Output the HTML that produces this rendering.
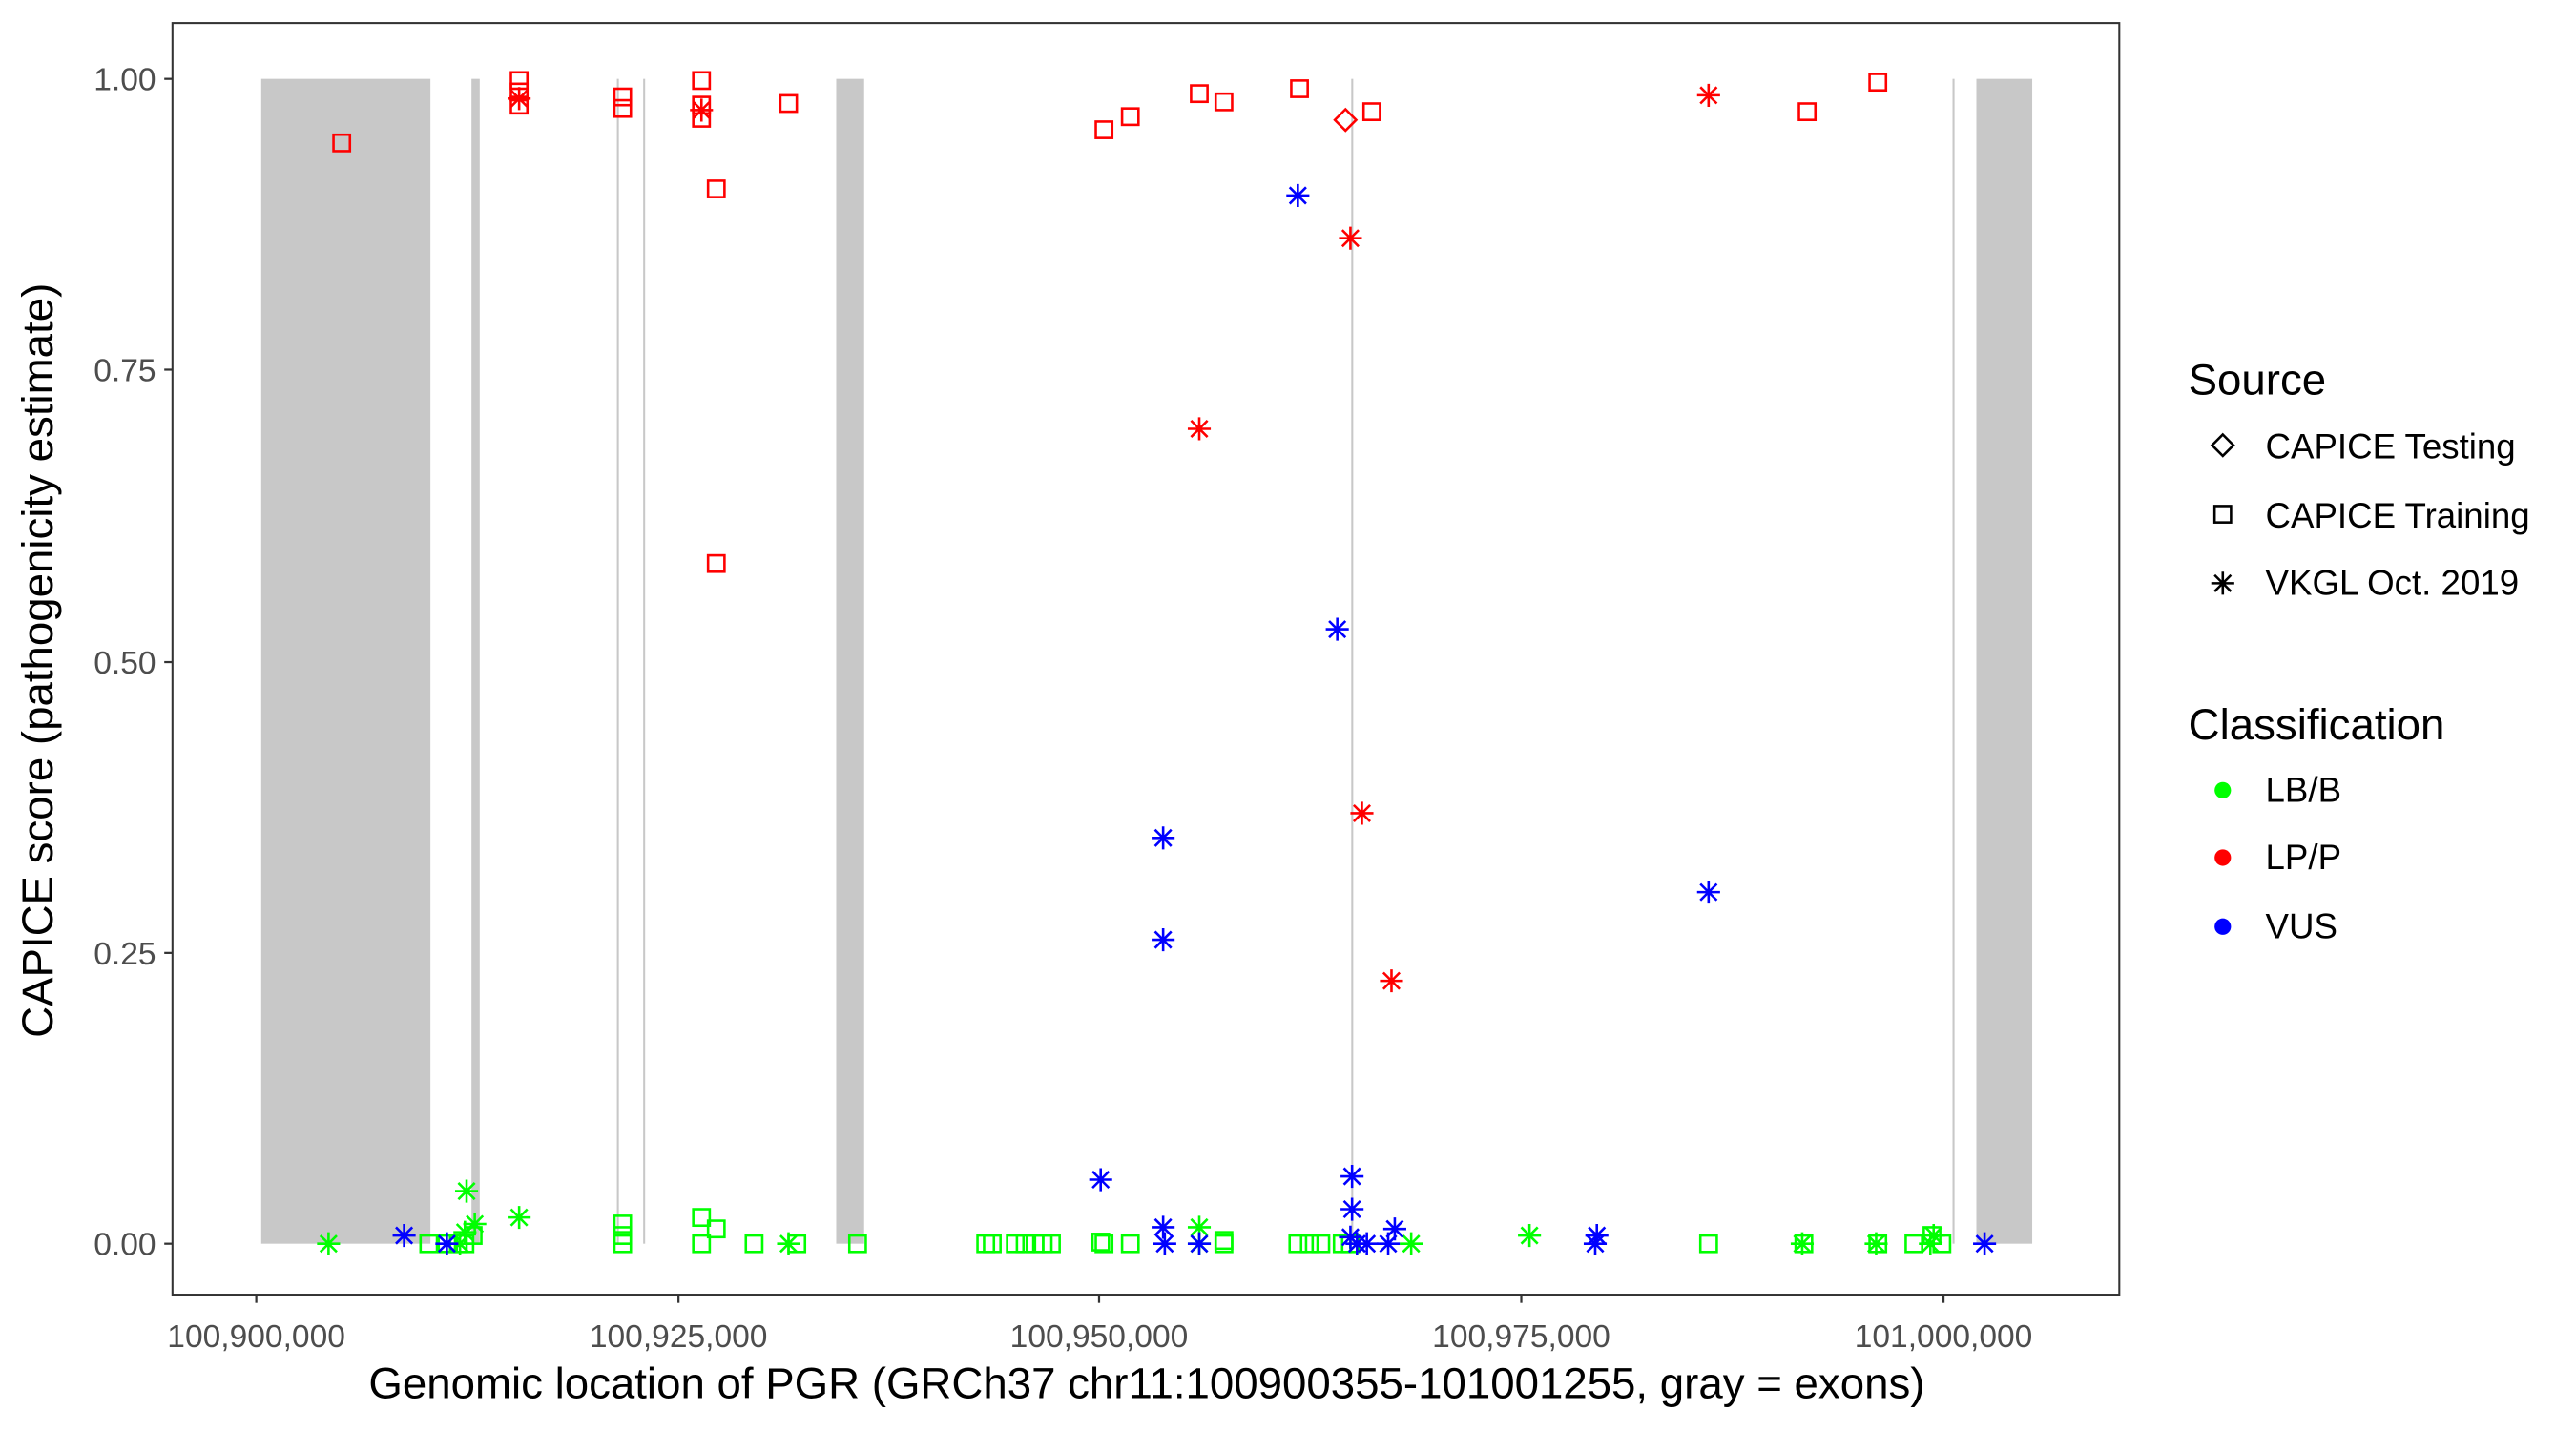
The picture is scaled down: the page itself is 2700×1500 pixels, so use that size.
<!DOCTYPE html>
<html><head><meta charset="utf-8"><style>html,body{margin:0;padding:0;background:#fff}svg{display:block}</style></head>
<body>
<svg id="s" width="2700" height="1500" viewBox="0 0 1568 871" preserveAspectRatio="none" xmlns="http://www.w3.org/2000/svg" font-family="Liberation Sans, Arial, sans-serif">
<rect width="1568" height="871" fill="#fff"/>
<g fill="#C8C8C8">
<rect x="159" y="48" width="103" height="709"/>
<rect x="287" y="48" width="5" height="709"/>
<rect x="375.5" y="48" width="1.2" height="709"/>
<rect x="391.5" y="48" width="1.2" height="709"/>
<rect x="509" y="48" width="17" height="709"/>
<rect x="822.5" y="48" width="1.2" height="709"/>
<rect x="1188.5" y="48" width="1.2" height="709"/>
<rect x="1203" y="48" width="34" height="709"/>
</g>
<g id="pts" fill="none" stroke-width="1.5"></g>
<rect x="105" y="14" width="1185" height="774" fill="none" stroke="#333" stroke-width="1.2"/>
<g stroke="#333" stroke-width="1.3">
<line x1="100" x2="105" y1="48" y2="48"/><line x1="100" x2="105" y1="225" y2="225"/><line x1="100" x2="105" y1="403" y2="403"/><line x1="100" x2="105" y1="580" y2="580"/><line x1="100" x2="105" y1="757" y2="757"/>
<line x1="156" x2="156" y1="788" y2="793"/><line x1="413" x2="413" y1="788" y2="793"/><line x1="669" x2="669" y1="788" y2="793"/><line x1="926" x2="926" y1="788" y2="793"/><line x1="1183" x2="1183" y1="788" y2="793"/>
</g>
<g fill="#4d4d4d" font-size="19.5" text-anchor="end">
<text x="95" y="55">1.00</text><text x="95" y="232">0.75</text><text x="95" y="410">0.50</text><text x="95" y="587">0.25</text><text x="95" y="764">0.00</text>
</g>
<g fill="#4d4d4d" font-size="19.5" text-anchor="middle">
<text x="156" y="820">100,900,000</text><text x="413" y="820">100,925,000</text><text x="669" y="820">100,950,000</text><text x="926" y="820">100,975,000</text><text x="1183" y="820">101,000,000</text>
</g>
<text x="698" y="851" font-size="26.5" text-anchor="middle">Genomic location of PGR (GRCh37 chr11:100900355-101001255, gray = exons)</text>
<text transform="translate(32,402) rotate(-90)" font-size="26.5" text-anchor="middle">CAPICE score (pathogenicity estimate)</text>
<text x="1332" y="240" font-size="26.5">Source</text>
<g font-size="21.3"><text x="1379" y="279">CAPICE Testing</text><text x="1379" y="321">CAPICE Training</text><text x="1379" y="362">VKGL Oct. 2019</text></g>
<text x="1332" y="450" font-size="26.5">Classification</text>
<g font-size="21.3"><text x="1379" y="488">LB/B</text><text x="1379" y="529">LP/P</text><text x="1379" y="571">VUS</text></g>
<circle cx="1353" cy="481" r="5" fill="#00FF00"/><circle cx="1353" cy="522" r="5" fill="#FF0000"/><circle cx="1353" cy="564" r="5" fill="#0000FF"/>
<g id="leg" fill="none" stroke="#000" stroke-width="1.5"></g>
</svg>
<script>
var NS="http://www.w3.org/2000/svg";
function el(p,t,a){var e=document.createElementNS(NS,t);for(var k in a)e.setAttribute(k,a[k]);p.appendChild(e);}
function sq(g,x,y,c){el(g,"rect",{x:x-5,y:y-5,width:10,height:10,stroke:c});}
function st(g,x,y,c){var r=7;el(g,"path",{d:"M"+x+" "+(y-r)+"V"+(y+r)+"M"+(x-r)+" "+y+"H"+(x+r)+"M"+(x-5)+" "+(y-5)+"L"+(x+5)+" "+(y+5)+"M"+(x-5)+" "+(y+5)+"L"+(x+5)+" "+(y-5),stroke:c});}
function di(g,x,y,c){el(g,"path",{d:"M"+x+" "+(y-6.5)+"L"+(x+6.5)+" "+y+"L"+x+" "+(y+6.5)+"L"+(x-6.5)+" "+y+"Z",stroke:c});}
var g=document.getElementById("pts");
var R="#FF0000",B="#0000FF",G="#00FF00";
var gs=[[261,757],[272,757],[279,757],[283,757],[288,752],[379,745],[379,752],[379,757],[427,741],[427,757],[436,748],[459,757],[485,757],[522,757],[600,757],[604,757],[618,757],[624,757],[630,757],[635,757],[640,757],[670,756],[672,757],[688,757],[745,755],[745,757],[790,757],[797,757],[804,757],[817,757],[822,757],[1040,757],[1098,757],[1143,757],[1165,757],[1176,752],[1182,757]];
gs.forEach(function(p){sq(g,p[0],p[1],G);});
var gst=[[200,757],[284,725],[289,745],[283,750],[280,757],[316,741],[480,757],[730,747],[730,757],[859,757],[931,752],[1097,757],[1142,757],[1175,757],[1177,752]];
gst.forEach(function(p){st(g,p[0],p[1],G);});
var rs=[[208,87],[316,49],[316,56],[316,64],[379,59],[379,66],[427,49],[427,64],[427,72],[436,115],[480,63],[436,343],[672,79],[688,71],[730,57],[745,62],[791,54],[835,68],[1100,68],[1143,50]];
rs.forEach(function(p){sq(g,p[0],p[1],R);});
var rst=[[316,60],[427,67],[730,261],[822,145],[829,495],[847,597],[1040,58]];
rst.forEach(function(p){st(g,p[0],p[1],R);});
di(g,819,73,R);
var bst=[[246,752],[272,757],[670,718],[708,510],[708,572],[708,747],[709,757],[730,757],[790,119],[814,383],[823,716],[823,736],[822,753],[826,757],[832,757],[845,757],[849,748],[971,757],[972,752],[1040,543],[1208,757]];
bst.forEach(function(p){st(g,p[0],p[1],B);});
var l=document.getElementById("leg");
di(l,1353,271,"#000");sq(l,1353,313,"#000");st(l,1353,355,"#000");
</script>
</body></html>
